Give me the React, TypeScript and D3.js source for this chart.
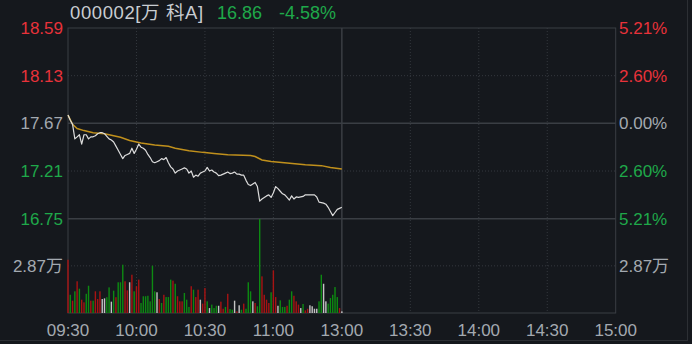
import React from 'react';
import * as d3 from 'd3';

// ---- data ----
const stockCode = '000002';
const stockName = '[万 科A]';
const lastPrice = '16.86';
const changePct = '-4.58%';
const preClose = 17.67;

const priceTicks = [18.59, 18.13, 17.67, 17.21, 16.75];
const priceTickLabels = ['18.59', '18.13', '17.67', '17.21', '16.75'];
const pctTickLabels = ['5.21%', '2.60%', '0.00%', '2.60%', '5.21%'];
const volTick = 2.87;
const volTickLabel = '2.87万';
const volMax = 5.74;
const timeLabels = ['09:30', '10:00', '10:30', '11:00', '13:00', '13:30', '14:00', '14:30', '15:00'];

// minute-by-minute price (09:30 .. 11:30)
const prices = [
  17.75, 17.70, 17.66, 17.52, 17.54, 17.56, 17.47, 17.56, 17.56, 17.52,
  17.54, 17.54, 17.55, 17.57, 17.58, 17.58, 17.57, 17.545, 17.52, 17.51,
  17.49, 17.45, 17.41, 17.37, 17.33, 17.36, 17.37, 17.38, 17.43, 17.38,
  17.42, 17.47, 17.44, 17.43, 17.41, 17.37, 17.34, 17.30, 17.29, 17.30,
  17.31, 17.33, 17.32, 17.34, 17.29, 17.25, 17.23, 17.19, 17.21, 17.22,
  17.23, 17.24, 17.23, 17.19, 17.21, 17.15, 17.17, 17.16, 17.19, 17.20,
  17.21, 17.245, 17.21, 17.22, 17.20, 17.19, 17.165, 17.17, 17.18, 17.19,
  17.20, 17.185, 17.19, 17.20, 17.18, 17.18, 17.17, 17.17, 17.12, 17.08,
  17.07, 17.085, 17.10, 17.06, 16.92, 16.94, 16.955, 16.97, 16.98, 16.955,
  17.00, 17.06, 17.04, 17.015, 16.99, 16.98, 16.955, 16.93, 16.97, 16.94,
  16.96, 16.955, 16.96, 16.965, 16.98, 16.98, 16.98, 16.98, 16.98, 16.96,
  16.91, 16.905, 16.90, 16.89, 16.86, 16.82, 16.78, 16.81, 16.84, 16.85,
  16.86,
];

// average price line (minute, price) as read
const avgMinutes = [0, 2, 4, 7, 11, 16, 20, 23, 27, 32, 38, 44, 47, 53, 59, 64, 70, 80, 82, 85, 89, 96, 104, 111, 115, 120];
const avgPrices = [17.75, 17.66, 17.62, 17.60, 17.58, 17.57, 17.55, 17.535, 17.505, 17.48, 17.46, 17.448, 17.43, 17.406, 17.39, 17.38, 17.368, 17.36, 17.35, 17.317, 17.303, 17.288, 17.271, 17.262, 17.245, 17.23];

// volume per minute (万) and direction: r = up, g = down, w = flat
const volumes = [
  3.24, 1.11, 0.75, 1.32, 1.93, 1.48, 0.81, 0.65, 1.17, 1.66,
  0.75, 0.75, 1.32, 0.85, 1.32, 0.85, 0.89, 0.96, 1.56, 0.69,
  1.36, 0.96, 1.87, 1.87, 2.94, 1.93, 1.38, 1.87, 2.33, 1.32,
  1.63, 2.03, 0.61, 1.02, 1.02, 1.05, 0.71, 2.88, 1.32, 1.26,
  0.85, 0.61, 1.11, 0.97, 0.97, 2.03, 1.97, 1.78, 1.02, 0.71,
  0.71, 1.22, 0.81, 0.37, 1.63, 1.42, 0.97, 1.42, 0.81, 0.57,
  1.52, 0.71, 0.30, 0.51, 0.30, 0.44, 0.44, 0.69, 0.26, 0.37,
  1.17, 0.24, 0.20, 0.75, 0.10, 0.47, 0.20, 0.57, 0.26, 1.87,
  1.32, 0.71, 0.61, 0.41, 5.72, 2.23, 1.11, 0.81, 0.61, 1.26,
  2.60, 0.97, 0.44, 0.77, 0.37, 0.37, 0.44, 0.81, 1.32, 1.05,
  0.71, 0.51, 0.30, 0.55, 0.16, 0.26, 0.47, 0.41, 0.26, 0.26,
  0.71, 2.33, 1.78, 0.71, 0.57, 0.91, 1.11, 1.58, 0.97, 0.30,
  0.10,
];
const volDirs =
  'rgrgrgrrgg' +
  'rgrrrwwggw' +
  'grgggrrwrg' +
  'rrgggggggw' +
  'rgrgggrgrr' +
  'rggg' + 'rgrrwr' +
  'rgwgggwrrg' +
  'rggwrwgrgg' +
  'gwrggrrrrg' +
  'rrwgggrggr' +
  'rrwgrrwwww' +
  'ggwwgggggr' +
  'w';

// ---- layout ----
const W = 692;
const H = 344;
const L = 68;
const R = 615.7;
const T = 28;
const PB = 218.7;
const VB = 313;

const RED = '#e8323a';
const GREEN = '#1fa84a';
const GRAY = '#a3a9b0';
const GRID = '#3a3e44';
const FONT = '"Liberation Sans", Arial, "Noto Sans CJK SC", sans-serif';

export default function App() {
  const x = d3.scaleLinear().domain([0, 240]).range([L, R]);
  const y = d3.scaleLinear().domain([16.75, 18.59]).range([PB, T]);
  const yv = d3.scaleLinear().domain([0, volMax]).range([VB, PB]);

  const priceLine = d3
    .line<number>()
    .x((_, i) => x(i))
    .y((d) => y(d))(prices) as string;
  const avgLine = d3
    .line<number>()
    .x((_, i) => x(avgMinutes[i]))
    .y((d) => y(d))(avgPrices) as string;

  const colorFor = (v: number) => (v > preClose + 1e-9 ? RED : v < preClose - 1e-9 ? GREEN : GRAY);
  const barColor: Record<string, string> = { r: '#a81313', g: '#0d8a12', w: '#c4c4c4' };

  const dotted = [y(18.13), y(17.21), yv(volTick)];
  const solidH = [y(17.67), PB];
  const vTimes = [30, 60, 90, 150, 180, 210];

  return (
    <svg
      width={W}
      height={H}
      style={{ position: 'fixed', left: 0, top: 0, background: '#15181d', display: 'block' }}
      fontFamily={FONT}
    >
      <rect x={0} y={0} width={W} height={H} fill="#15181d" />
      {/* outer borders */}
      <line x1={687.5} x2={687.5} y1={0} y2={341} stroke="#2c2f34" strokeWidth={1} />
      <line x1={0} x2={688} y1={340.5} y2={340.5} stroke="#2c2f34" strokeWidth={1} />

      {/* grid */}
      {dotted.map((yy, i) => (
        <line key={'d' + i} x1={L} x2={R} y1={yy} y2={yy} stroke="#34383e" strokeWidth={1} strokeDasharray="1 2" />
      ))}
      {vTimes.map((t, i) => (
        <line key={'v' + i} x1={x(t)} x2={x(t)} y1={T} y2={VB} stroke="#34383e" strokeWidth={1} strokeDasharray="1 2" />
      ))}
      {solidH.map((yy, i) => (
        <line key={'s' + i} x1={L} x2={R} y1={yy} y2={yy} stroke={GRID} strokeWidth={1.5} />
      ))}
      <line x1={x(120)} x2={x(120)} y1={T} y2={VB} stroke={GRID} strokeWidth={1.5} />
      <rect x={L} y={T} width={R - L} height={VB - T} fill="none" stroke={GRID} strokeWidth={1} />

      {/* volume bars */}
      {volumes.map((v, i) => (
        <rect
          key={'b' + i}
          x={x(i) - 0.7}
          y={yv(v)}
          width={1.4}
          height={VB - yv(v)}
          fill={barColor[volDirs[i]] || GRAY}
        />
      ))}

      {/* lines */}
      <path d={avgLine} fill="none" stroke="#c0901c" strokeWidth={1.5} />
      <path d={priceLine} fill="none" stroke="#dcdcdc" strokeWidth={1.2} strokeLinejoin="round" />

      {/* left labels */}
      {priceTicks.map((p, i) => (
        <text key={'l' + i} x={63} y={y(p)} dy="0.35em" textAnchor="end" fontSize={17} fill={colorFor(p)}>
          {priceTickLabels[i]}
        </text>
      ))}
      <text x={63} y={yv(volTick)} dy="0.35em" textAnchor="end" fontSize={17} fill={GRAY}>
        {volTickLabel}
      </text>

      {/* right labels */}
      {priceTicks.map((p, i) => (
        <text key={'r' + i} x={619} y={y(p)} dy="0.35em" textAnchor="start" fontSize={17} fill={colorFor(p)}>
          {pctTickLabels[i]}
        </text>
      ))}
      <text x={619} y={yv(volTick)} dy="0.35em" textAnchor="start" fontSize={17} fill={GRAY}>
        {volTickLabel}
      </text>

      {/* time labels */}
      {timeLabels.map((t, i) => (
        <text key={'t' + i} x={x(i * 30)} y={336} textAnchor="middle" fontSize={17} fill={GRAY}>
          {t}
        </text>
      ))}

      {/* header */}
      <text x={70} y={19} fontSize={18.5} letterSpacing={0.6} fill="#c9cdd2">
        {stockCode + stockName}
      </text>
      <text x={217} y={19} fontSize={18} fill={GREEN}>
        {lastPrice}
      </text>
      <text x={279} y={19} fontSize={18} fill={GREEN}>
        {changePct}
      </text>
    </svg>
  );
}
